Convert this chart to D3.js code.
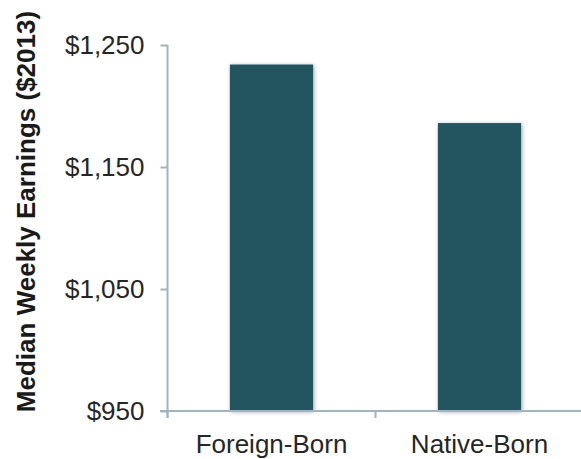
<!DOCTYPE html>
<html>
<head>
<meta charset="utf-8">
<script src="https://cdn.jsdelivr.net/npm/d3@7"></script>
<style>
  html, body { margin: 0; padding: 0; background: #fff; }
  svg { display: block; }
  text { font-family: "Liberation Sans", Arial, Helvetica, sans-serif; }
</style>
</head>
<body>
<div id="chart"></div>
<script>
const categories = ["Foreign-Born", "Native-Born"];
const values = [1234, 1186];
const yTicks = [950, 1050, 1150, 1250];
const yTickLabels = ["$950", "$1,050", "$1,150", "$1,250"];
const yTitle = "Median Weekly Earnings ($2013)";

const W = 581, H = 459;
const svg = d3.select("#chart").append("svg").attr("width", W).attr("height", H);

const defs = svg.append("defs");
const f = defs.append("filter").attr("id", "shadow").attr("x", "-10%").attr("y", "-10%").attr("width", "120%").attr("height", "120%");
f.append("feDropShadow").attr("dx", 1).attr("dy", 1).attr("stdDeviation", 2).attr("flood-color", "#000").attr("flood-opacity", 0.35);

const y = d3.scaleLinear().domain([950, 1250]).range([411, 45]);
const x = d3.scaleBand().domain(categories).range([167.5, 583.5]).paddingInner(0.6).paddingOuter(0.3);

const axisColor = "#a3b3c1";

// bars
svg.selectAll("rect.bar").data(categories).enter().append("rect")
  .attr("class", "bar")
  .attr("x", d => x(d))
  .attr("width", x.bandwidth())
  .attr("y", (d, i) => y(values[i]))
  .attr("height", (d, i) => y(950) - y(values[i]))
  .attr("fill", "#215560")
  .attr("filter", "url(#shadow)");

// y axis
const yAxis = d3.axisLeft(y).tickValues(yTicks).tickSize(7).tickFormat((d, i) => yTickLabels[i]).tickPadding(16);
const gy = svg.append("g").attr("transform", "translate(167.5,0)").call(yAxis);
gy.select(".domain").remove();
gy.append("line").attr("x1", 0).attr("x2", 0).attr("y1", y(1250)).attr("y2", 418)
  .attr("stroke", axisColor).attr("stroke-width", 2);
gy.selectAll(".tick line").attr("stroke", axisColor).attr("stroke-width", 2);
gy.selectAll(".tick text").attr("font-size", 26).attr("fill", "#262626")
  .attr("font-family", "'Liberation Sans', Arial, Helvetica, sans-serif");

// x axis
const bounds = [167.5, x(categories[1]) - x.step() * x.paddingInner() / 2, 583.5];
const gx = svg.append("g").attr("transform", "translate(0,411)");
gx.append("line").attr("x1", 160).attr("x2", W).attr("y1", 0).attr("y2", 0)
  .attr("stroke", axisColor).attr("stroke-width", 2);
gx.selectAll("line.xt").data(bounds).enter().append("line").attr("class", "xt")
  .attr("x1", d => d).attr("x2", d => d).attr("y1", 0).attr("y2", 7)
  .attr("stroke", axisColor).attr("stroke-width", 2);
const xAxis = d3.axisBottom(x).tickSize(0).tickPadding(0);
const gxl = svg.append("g").attr("transform", "translate(0,411)").call(xAxis);
gxl.select(".domain").remove();
gxl.selectAll(".tick text").attr("font-size", 26).attr("fill", "#262626")
  .attr("dy", null).attr("y", 42)
  .attr("font-family", "'Liberation Sans', Arial, Helvetica, sans-serif");

// y title
svg.append("text")
  .attr("transform", "translate(35,211.5) rotate(-90)")
  .attr("text-anchor", "middle")
  .attr("font-size", 26)
  .attr("font-weight", "bold")
  .attr("fill", "#1a1a1a")
  .text(yTitle);
</script>
</body>
</html>
